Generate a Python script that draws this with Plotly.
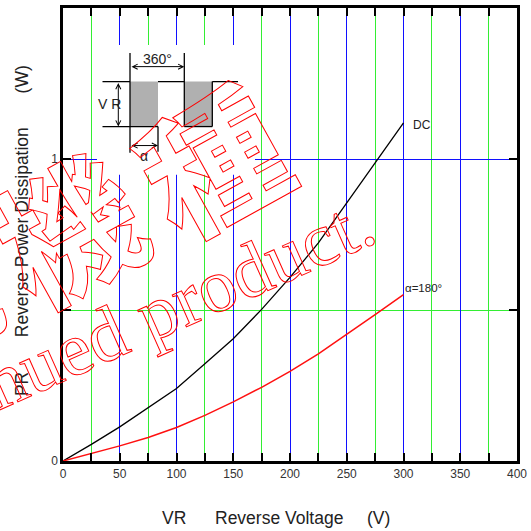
import plotly.graph_objects as go

# ---- data ----
vr = [0, 25, 50, 75, 100, 125, 150, 175, 200, 225, 250, 275, 300]
pr_dc = [0, 0.055, 0.113, 0.176, 0.240, 0.322, 0.405, 0.502, 0.608, 0.722, 0.855, 0.985, 1.12]
pr_180 = [0, 0.024, 0.050, 0.078, 0.111, 0.151, 0.196, 0.244, 0.297, 0.355, 0.419, 0.485, 0.551]
x_ticks = [0, 50, 100, 150, 200, 250, 300, 350, 400]
y_ticks = [0, 1]
watermark_en = "discontinued product."
watermark_jp = ["廃", "機", "種"]

# plot area in pixels
L, R, T, B = 63, 517, 8, 461.5


def P(px, py):
    return (px - L) / (R - L), (B - py) / (B - T)


fig = go.Figure()
fig.add_trace(go.Scatter(x=vr, y=pr_dc, mode="lines",
                         line=dict(color="black", width=1.3), showlegend=False))
fig.add_trace(go.Scatter(x=vr, y=pr_180, mode="lines",
                         line=dict(color="#ff1010", width=1.5), showlegend=False))

GREEN = "#33ee33"
BLUE = "#1010ff"
axis_common = dict(showline=True, linecolor="black", linewidth=2.5, mirror="ticks",
                   ticks="inside", ticklen=8, tickwidth=2, tickcolor="black",
                   zeroline=False, showgrid=True, gridcolor=BLUE, gridwidth=1,
                   automargin=False,
                   tickfont=dict(family="Liberation Sans, Arial", size=12, color="#333"))

fig.update_xaxes(range=[0, 400], tickvals=x_ticks,
                 minor=dict(dtick=25, tick0=0, ticks="inside", ticklen=8, tickwidth=2,
                            tickcolor="black", showgrid=True, gridcolor=GREEN, gridwidth=1),
                 **axis_common)
fig.update_yaxes(range=[0, 1.5], tickvals=y_ticks,
                 minor=dict(dtick=0.5, tick0=0, ticks="inside", ticklen=8, tickwidth=2,
                            tickcolor="black", showgrid=True, gridcolor=GREEN, gridwidth=1),
                 **axis_common)

shapes = []
ann = []


def line(p1, p2, color="black", w=1.3):
    x0, y0 = P(*p1)
    x1, y1 = P(*p2)
    shapes.append(dict(type="line", xref="paper", yref="paper", x0=x0, y0=y0, x1=x1, y1=y1,
                       line=dict(color=color, width=w)))


def rect(p1, p2, fill="#b0b0b0"):
    x0, y0 = P(*p1)
    x1, y1 = P(*p2)
    shapes.append(dict(type="rect", xref="paper", yref="paper", x0=x0, y0=y0, x1=x1, y1=y1,
                       fillcolor=fill, line=dict(width=0), layer="above"))


def arrow(p1, p2):
    x, y = P(*p2)
    ann.append(dict(xref="paper", yref="paper", x=x, y=y, ax=p1[0] - p2[0], ay=p1[1] - p2[1],
                    text="", showarrow=True, arrowhead=5, startarrowhead=5,
                    arrowside="end+start", arrowsize=1, startarrowsize=1,
                    arrowwidth=1, arrowcolor="black", standoff=0, startstandoff=0))


def label(px, py, text, size=13, anchor="center", color="#222", angle=0,
          family="Liberation Sans, Arial", weight=None):
    x, y = P(px, py)
    f = dict(family=family, size=size, color=color)
    if weight:
        f["weight"] = weight
    ann.append(dict(xref="paper", yref="paper", x=x, y=y, text=text, showarrow=False,
                    xanchor=anchor, yanchor="middle", textangle=angle, font=f))


# inset waveform (white backing box hides the grid)
rect((97, 45), (255, 175), fill="white")
top, bot = 81.7, 126.7
rect((130, top), (158, bot))
rect((184.3, top), (212.3, bot))
line((102.5, top), (130, top))
line((158, top), (184.3, top))
line((212.3, top), (238, top))
line((102.5, bot), (158, bot))
line((184.3, bot), (212.3, bot))
line((130, 53), (130, 153))
line((184.3, 53), (184.3, bot))
line((212.3, top), (212.3, bot))
line((158, bot), (158, 152))
arrow((130, 66.7), (184.3, 66.7))
arrow((118.3, top), (118.3, bot))
arrow((130, 145.7), (158, 145.7))
label(157.5, 59.5, "360°", 14)
label(109.5, 104, "V R", 14)
label(143.5, 156, "α", 14)

# curve labels
label(411, 125, "DC", 12, "left")
label(403, 288, "α=180°", 11.5, "left")

# axis titles
for px, t in [(174, "VR"), (279, "Reverse Voltage"), (378.5, "(V)")]:
    label(px, 518.5, t, 17.5)
for py, t in [(385, "PR"), (233, "Reverse Power Dissipation"), (80, "(W)")]:
    label(21.5, py, t, 17.5, angle=-90)

# watermark
label(68, 351, watermark_en, 76, color="red", angle=-24,
      family="Liberation Serif, Times New Roman")
for (cx, cy), ch in zip([(-79, 294), (65, 225), (209, 156)], watermark_jp):
    label(cx, cy, ch, 140, color="red", angle=-29,
          family="Noto Sans CJK JP", weight=700)

fig.update_layout(width=531, height=531, margin=dict(l=63, r=14, t=8, b=69.5),
                  paper_bgcolor="white", plot_bgcolor="white",
                  shapes=shapes, annotations=ann, showlegend=False)

post = """
document.body.style.margin = '0';
var gd = document.getElementById('{plot_id}');
var marks = ['product', '廃', '機', '種'];
gd.querySelectorAll('text.annotation-text').forEach(function(t){
  var s = t.textContent;
  if (marks.some(function(m){ return s.indexOf(m) >= 0; })) {
    t.style.fill = 'none';
    t.style.stroke = 'red';
    t.style.strokeWidth = '1px';
  }
});
"""
fig.write_html("out.html", post_script=post, config={"displayModeBar": False})
